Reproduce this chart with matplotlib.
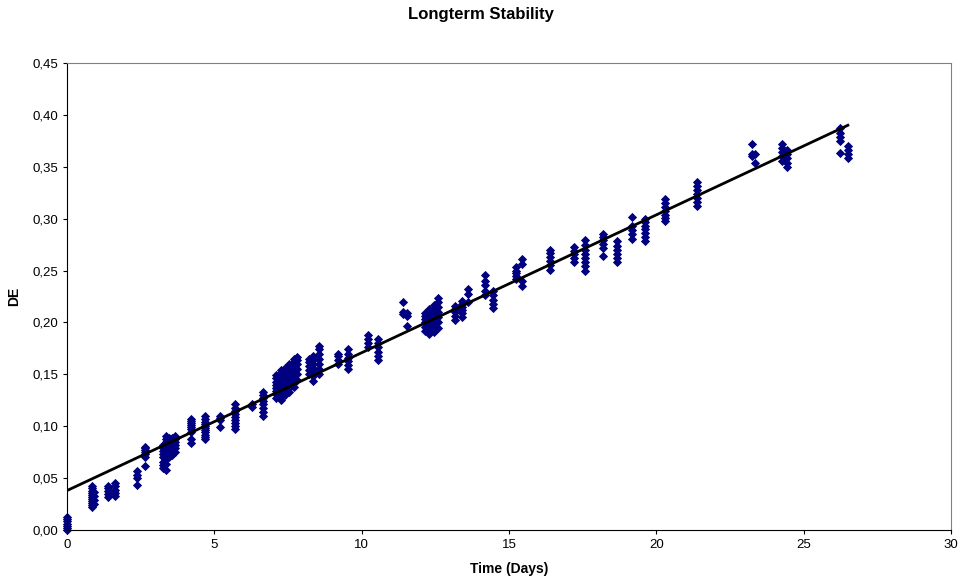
import matplotlib
matplotlib.use('Agg')
import matplotlib.pyplot as plt
from matplotlib.ticker import FuncFormatter, MultipleLocator

plt.rcParams['font.family'] = ['Liberation Sans', 'DejaVu Sans']

# Measurement clusters: day of measurement and DE values read at that day
cluster_days = [0.0, 0.85, 0.9, 1.4, 1.62, 2.36, 2.65, 3.25, 3.35, 3.45, 3.55,
                3.65, 4.22, 4.68, 5.19, 5.7, 6.27, 6.66, 7.1, 7.25, 7.4, 7.55,
                7.7, 7.8, 8.2, 8.35, 8.55, 9.2, 9.55, 10.2, 10.55, 11.4, 11.55,
                12.15, 12.3, 12.45, 12.6, 13.17, 13.4, 13.6, 14.2, 14.45, 15.25,
                15.45, 16.4, 17.2, 17.58, 18.2, 18.66, 19.17, 19.6, 20.3, 21.37,
                23.25, 23.35, 24.25, 24.45, 26.23, 26.5]
cluster_de = [
    [0.000, 0.002, 0.004, 0.006, 0.009, 0.011, 0.013],
    [0.022, 0.024, 0.026, 0.028, 0.030, 0.032, 0.034, 0.036, 0.038, 0.040, 0.042],
    [0.025, 0.029, 0.033, 0.037],
    [0.032, 0.035, 0.038, 0.040, 0.042],
    [0.033, 0.036, 0.039, 0.042, 0.045],
    [0.043, 0.050, 0.053, 0.057],
    [0.062, 0.070, 0.073, 0.075, 0.077, 0.079, 0.080],
    [0.060, 0.063, 0.066, 0.070, 0.073, 0.076, 0.079, 0.082],
    [0.058, 0.064, 0.068, 0.072, 0.075, 0.078, 0.081, 0.085, 0.088, 0.091],
    [0.070, 0.074, 0.077, 0.080, 0.083, 0.086, 0.089],
    [0.072, 0.076, 0.080, 0.083, 0.086, 0.089],
    [0.075, 0.079, 0.082, 0.085, 0.088, 0.091],
    [0.084, 0.088, 0.094, 0.097, 0.099, 0.101, 0.103, 0.105, 0.107],
    [0.088, 0.090, 0.092, 0.094, 0.096, 0.098, 0.100, 0.102, 0.104, 0.107, 0.110],
    [0.099, 0.106, 0.108, 0.110],
    [0.097, 0.100, 0.103, 0.106, 0.109, 0.112, 0.115, 0.118, 0.121],
    [0.119, 0.121],
    [0.110, 0.114, 0.118, 0.121, 0.124, 0.127, 0.130, 0.133],
    [0.127, 0.131, 0.134, 0.137, 0.140, 0.143, 0.146, 0.149],
    [0.125, 0.129, 0.133, 0.136, 0.139, 0.142, 0.145, 0.148, 0.151, 0.154],
    [0.130, 0.134, 0.138, 0.141, 0.144, 0.147, 0.150, 0.153, 0.156],
    [0.133, 0.137, 0.141, 0.145, 0.149, 0.153, 0.157, 0.160],
    [0.138, 0.142, 0.146, 0.150, 0.154, 0.158, 0.162, 0.165],
    [0.145, 0.150, 0.155, 0.160, 0.164, 0.167],
    [0.150, 0.154, 0.158, 0.162, 0.165],
    [0.144, 0.148, 0.152, 0.156, 0.160, 0.164, 0.168],
    [0.150, 0.155, 0.160, 0.165, 0.170, 0.174, 0.177],
    [0.160, 0.164, 0.168, 0.170],
    [0.155, 0.159, 0.163, 0.166, 0.170, 0.174],
    [0.176, 0.180, 0.184, 0.188],
    [0.164, 0.168, 0.172, 0.176, 0.180, 0.184],
    [0.208, 0.210, 0.220],
    [0.197, 0.206, 0.209],
    [0.192, 0.196, 0.200, 0.203, 0.206, 0.209],
    [0.189, 0.193, 0.197, 0.200, 0.203, 0.206, 0.210, 0.213],
    [0.191, 0.195, 0.199, 0.202, 0.205, 0.209, 0.213, 0.217],
    [0.195, 0.200, 0.205, 0.210, 0.215, 0.220, 0.224],
    [0.202, 0.206, 0.210, 0.213, 0.216],
    [0.205, 0.209, 0.212, 0.215, 0.218, 0.221],
    [0.220, 0.227, 0.232],
    [0.226, 0.230, 0.236, 0.240, 0.246],
    [0.214, 0.218, 0.222, 0.226, 0.230],
    [0.242, 0.245, 0.248, 0.250, 0.253],
    [0.235, 0.240, 0.256, 0.261],
    [0.251, 0.255, 0.259, 0.263, 0.267, 0.270],
    [0.258, 0.262, 0.266, 0.269, 0.273],
    [0.250, 0.254, 0.258, 0.262, 0.266, 0.270, 0.275, 0.279],
    [0.264, 0.272, 0.276, 0.279, 0.282, 0.285],
    [0.258, 0.262, 0.266, 0.270, 0.274, 0.278],
    [0.280, 0.285, 0.289, 0.293, 0.302],
    [0.278, 0.282, 0.286, 0.290, 0.293, 0.297, 0.300],
    [0.298, 0.301, 0.304, 0.307, 0.311, 0.315, 0.319],
    [0.312, 0.316, 0.320, 0.324, 0.328, 0.331, 0.335],
    [0.360, 0.362, 0.372],
    [0.354, 0.362],
    [0.356, 0.360, 0.364, 0.368, 0.372],
    [0.350, 0.354, 0.358, 0.362, 0.366],
    [0.363, 0.375, 0.379, 0.383, 0.387],
    [0.358, 0.362, 0.366, 0.370],
]

# Linear trend line as shown (start / end)
trend_days = [0.0, 26.5]
trend_de = [0.038, 0.390]

days = []
de = []
for d, vals in zip(cluster_days, cluster_de):
    days += [d] * len(vals)
    de += vals

fig = plt.figure(figsize=(9.61, 5.83), dpi=100)
ax = fig.add_axes([67 / 961, 53 / 583, 884 / 961, 467 / 583])

ax.scatter(days, de, marker='D', s=22, color='#000080', linewidths=0,
           zorder=2, clip_on=False)
ax.plot(trend_days, trend_de, color='black', linewidth=2, zorder=3)

ax.set_xlim(0, 30)
ax.set_ylim(0, 0.45)
ax.xaxis.set_major_locator(MultipleLocator(5))
ax.yaxis.set_major_locator(MultipleLocator(0.05))
ax.yaxis.set_major_formatter(FuncFormatter(lambda v, p: f"{v:.2f}".replace('.', ',')))
ax.tick_params(axis='both', labelsize=9.5, length=3, direction='out', color='black')

for side in ['top', 'right']:
    ax.spines[side].set_color('#808080')
for side in ['left', 'bottom']:
    ax.spines[side].set_color('black')

ax.set_xlabel('Time (Days)', fontsize=10, fontweight='bold', labelpad=8)
ax.set_ylabel('DE', fontsize=10, fontweight='bold', labelpad=8)
fig.text(0.5, 1 - 15 / 583, 'Longterm Stability', ha='center', va='center',
         fontsize=12, fontweight='bold')

plt.savefig('out.png', dpi=100)
plt.close()
